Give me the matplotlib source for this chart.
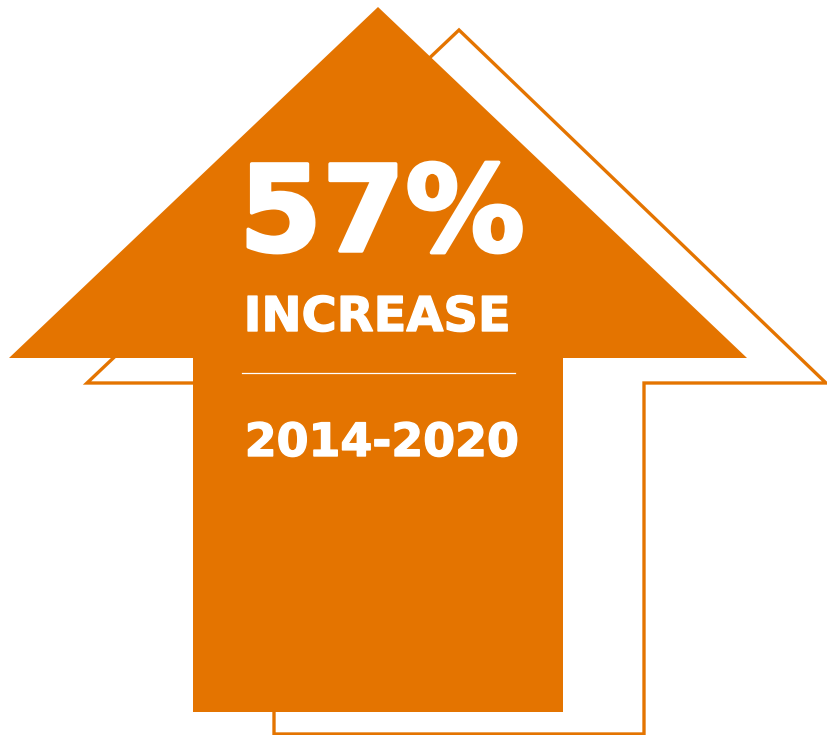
import matplotlib.pyplot as plt
import matplotlib.patheffects as pe
from matplotlib.patches import Polygon

# content
PERCENT = 57
LABEL = "INCREASE"
PERIOD = "2014-2020"

ORANGE = "#E47400"
W, H = 828, 735
FONT = "DejaVu Sans"


def arrow_points(tip_x, tip_y, head_l, head_r, head_y, shaft_l, shaft_r, bottom):
    """outline of an upward arrow in pixel coords"""
    return [(tip_x, tip_y), (head_r, head_y), (shaft_r, head_y), (shaft_r, bottom),
            (shaft_l, bottom), (shaft_l, head_y), (head_l, head_y)]


def heavy(width):
    # thicken the glyphs a little, the original uses a very heavy face
    return [pe.withStroke(linewidth=width, foreground="white")]


fig = plt.figure(figsize=(W / 100, H / 100), dpi=100)
ax = fig.add_axes([0, 0, 1, 1])
ax.set_xlim(0, W)
ax.set_ylim(H, 0)
ax.axis("off")

# outlined arrow behind
back = Polygon(arrow_points(459, 30, 87, 826, 383, 274, 644, 734),
               closed=True, facecolor="none", edgecolor=ORANGE, linewidth=2.4,
               joinstyle="miter")
ax.add_patch(back)

# solid arrow in front
front = Polygon(arrow_points(378, 7, 9, 747, 358, 193, 563, 712),
                closed=True, facecolor=ORANGE, edgecolor="none")
ax.add_patch(front)

ax.text(382, 251, f"{PERCENT}%", color="white", fontsize=86, fontweight="bold",
        family=FONT, ha="center", va="baseline", path_effects=heavy(2.5))
ax.text(377, 331, LABEL, color="white", fontsize=34.5, fontweight="bold",
        family=FONT, ha="center", va="baseline", path_effects=heavy(1))
ax.plot([242, 515], [373, 373], color="white", linewidth=0.9)
ax.text(382, 456, PERIOD, color="white", fontsize=33, fontweight="bold",
        family=FONT, ha="center", va="baseline", path_effects=heavy(1))

fig.savefig("out.png", dpi=100)
